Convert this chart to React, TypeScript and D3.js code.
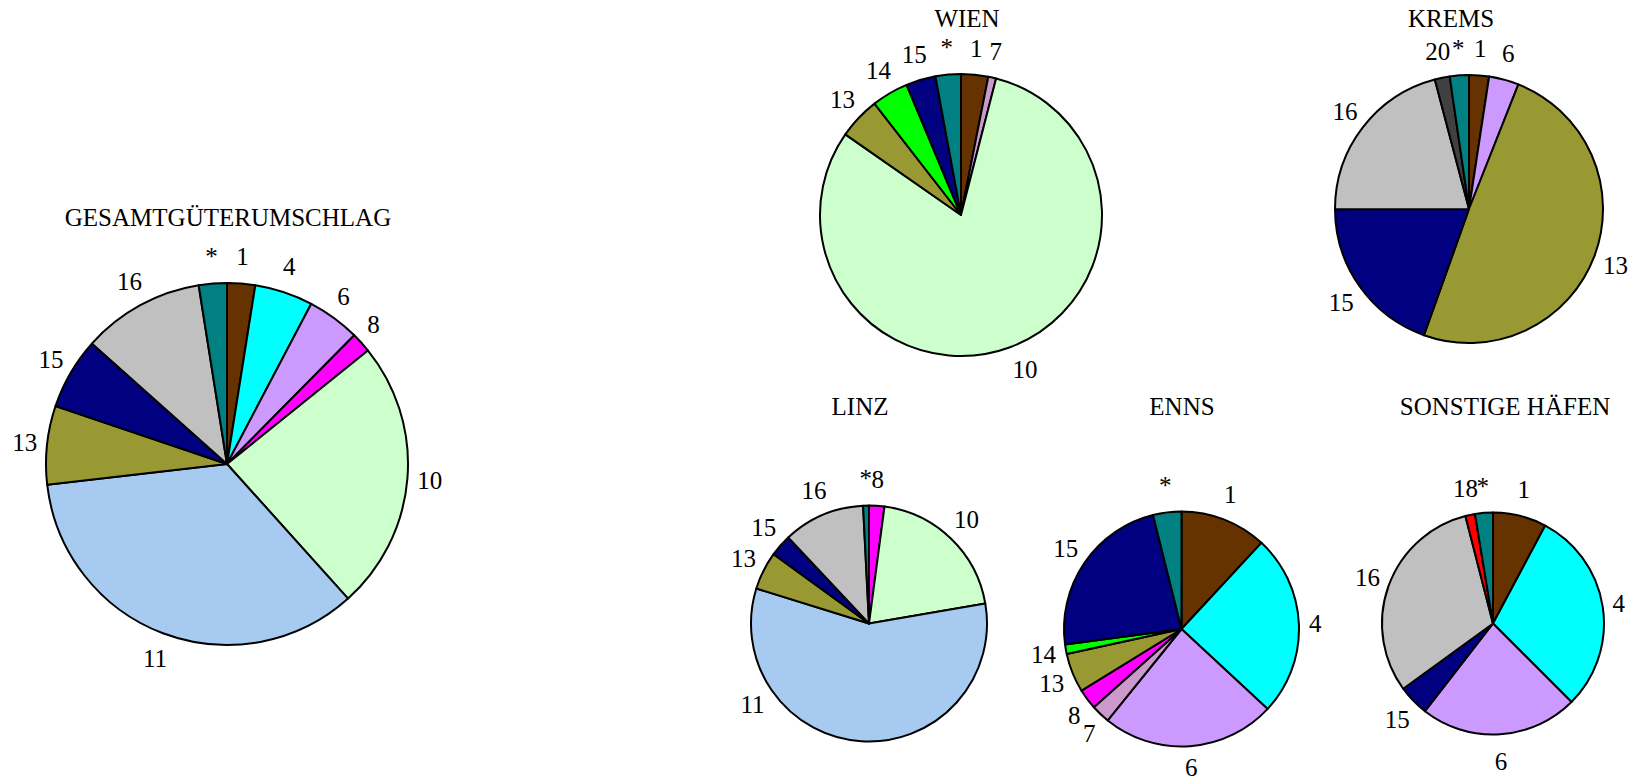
import React from "react";
import * as d3 from "d3";

// ---- data (shares in %) ----
const gesamtCats = ["1", "4", "6", "8", "10", "11", "13", "15", "16", "*"];
const gesamtValues = [2.5, 5.2, 4.7, 1.8, 24.1, 34.8, 7.0, 6.4, 10.9, 2.5];

const wienCats = ["1", "7", "10", "13", "14", "15", "*"];
const wienValues = [3.1, 0.9, 80.6, 4.8, 4.2, 3.4, 2.9];

const kremsCats = ["1", "6", "13", "15", "16", "20", "*"];
const kremsValues = [2.4, 3.6, 49.4, 19.5, 20.9, 1.8, 2.3];

const linzCats = ["8", "10", "11", "13", "15", "16", "*"];
const linzValues = [2.1, 20.2, 57.5, 5.2, 3.0, 11.2, 0.8];

const ennsCats = ["1", "4", "6", "7", "8", "13", "14", "15", "*"];
const ennsValues = [11.9, 25.0, 23.9, 2.6, 2.8, 5.4, 1.3, 23.2, 3.9];

const sonstCats = ["1", "4", "6", "15", "16", "18", "*"];
const sonstValues = [7.8, 29.7, 23.0, 4.5, 31.0, 1.4, 2.6];

const titles = ["GESAMTGÜTERUMSCHLAG", "WIEN", "KREMS", "LINZ", "ENNS", "SONSTIGE HÄFEN"];

// ---- styles ----
const colorByCat: Record<string, string> = {
  "1": "#663300",
  "4": "#00FFFF",
  "6": "#CC99FF",
  "7": "#CC99CC",
  "8": "#FF00FF",
  "10": "#CCFFCC",
  "11": "#A6CAF0",
  "13": "#999933",
  "14": "#00FF00",
  "15": "#000080",
  "16": "#C0C0C0",
  "18": "#FF0000",
  "20": "#404040",
  "*": "#008080",
};

const FONT = "'Liberation Serif', 'Times New Roman', serif";
const FS = 25;

type PieSpec = {
  title: string;
  cats: string[];
  values: number[];
  cx: number;
  cy: number;
  r: number;
  tx: number;
  ty: number;
  labelAngle?: Record<string, number>;
};

const layout: Array<Omit<PieSpec, "title" | "cats" | "values">> = [
  { cx: 227, cy: 464, r: 181, tx: 228, ty: 226 },
  { cx: 961, cy: 215, r: 141, tx: 967, ty: 27, labelAngle: { "10": 157 } },
  { cx: 1469, cy: 209, r: 134, tx: 1451, ty: 27 },
  { cx: 869, cy: 623.5, r: 118, tx: 860, ty: 415, labelAngle: { "11": 236 } },
  { cx: 1181.5, cy: 629, r: 117.5, tx: 1182, ty: 415 },
  { cx: 1493, cy: 623.5, r: 111, tx: 1505, ty: 415 },
];

const datasets = [
  [gesamtCats, gesamtValues],
  [wienCats, wienValues],
  [kremsCats, kremsValues],
  [linzCats, linzValues],
  [ennsCats, ennsValues],
  [sonstCats, sonstValues],
] as const;

const specs: PieSpec[] = datasets.map(([cats, values], i) => ({
  title: titles[i],
  cats: cats as unknown as string[],
  values: values as unknown as number[],
  ...layout[i],
}));

function Pie({ spec }: { spec: PieSpec }) {
  const items = spec.cats.map((c, i) => ({ cat: c, value: spec.values[i] }));
  const pie = d3
    .pie<{ cat: string; value: number }>()
    .sort(null)
    .value((d) => d.value)
    .startAngle(0)
    .endAngle(2 * Math.PI);
  const arcs = pie(items);
  const arc = d3
    .arc<d3.PieArcDatum<{ cat: string; value: number }>>()
    .innerRadius(0)
    .outerRadius(spec.r);

  const gap = 10;
  const h = 34;
  return (
    <g>
      <text
        x={spec.tx}
        y={spec.ty}
        textAnchor="middle"
        fontFamily={FONT}
        fontSize={FS}
        fill="#000"
      >
        {spec.title}
      </text>
      <g transform={`translate(${spec.cx},${spec.cy})`}>
        {arcs.map((a, i) => (
          <path
            key={i}
            d={arc(a) || ""}
            fill={colorByCat[a.data.cat]}
            stroke="#000"
            strokeWidth={2}
            strokeLinejoin="round"
          />
        ))}
        {arcs.map((a, i) => {
          const override = spec.labelAngle && spec.labelAngle[a.data.cat];
          const mid =
            override !== undefined && override !== null
              ? (override * Math.PI) / 180
              : (a.startAngle + a.endAngle) / 2;
          const ux = Math.sin(mid);
          const uy = -Math.cos(mid);
          const w = 12.5 * a.data.cat.length;
          const x = (spec.r + gap) * ux + (ux * w) / 2;
          let y = (spec.r + gap) * uy + (uy * h) / 2;
          // keep labels inside the page
          const absBottom = spec.cy + y + 16;
          if (absBottom > 783) y -= absBottom - 783;
          return (
            <text
              key={"l" + i}
              x={x}
              y={y}
              dy="0.35em"
              textAnchor="middle"
              fontFamily={FONT}
              fontSize={FS}
              fill="#000"
            >
              {a.data.cat}
            </text>
          );
        })}
      </g>
    </g>
  );
}

export default function App() {
  return (
    <svg
      width={1647}
      height={784}
      style={{ position: "absolute", left: 0, top: 0, background: "#fff" }}
    >
      <rect width={1647} height={784} fill="#fff" />
      {specs.map((s, i) => (
        <Pie key={i} spec={s} />
      ))}
    </svg>
  );
}
